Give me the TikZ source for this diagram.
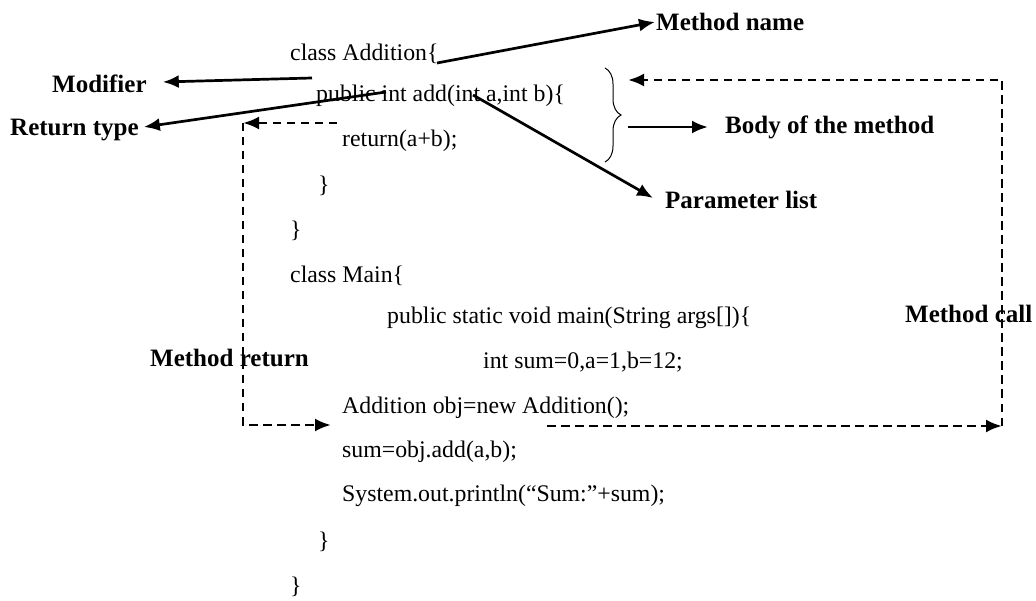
\documentclass[tikz,border=0pt]{standalone}
\usepackage{fontspec}
\setmainfont{Liberation Serif}
\usetikzlibrary{arrows.meta, decorations.pathreplacing, positioning}

\tikzset{
    code/.style={anchor=west, inner sep=0pt, font=\fontsize{23.8}{28}\selectfont},
    lbl/.style={anchor=west, inner sep=0pt, font=\fontsize{25}{30}\selectfont\bfseries},
    arr/.style={line width=2.7pt, -{Latex[length=16pt,width=13pt]}},
    darr/.style={line width=2.7pt, dash pattern=on 8.5pt off 5.5pt, -{Latex[length=16pt,width=13pt]}}
}

\begin{document}
\begin{tikzpicture}[x=1pt, y=-1pt]
            \useasboundingbox (0,0) rectangle (1036,601);
            % the program
            \node[code] (c1) at (290,54) {class Addition\{};
            \node[code] (c2) at (316,96) {public int add(int a,int b)\{};
            \node[code] (c3) at (342,141) {return(a+b);};
            \node[code] (c4) at (318,186) {\}};
            \node[code] (c5) at (290,231) {\}};
            \node[code] (c6) at (290,276) {class Main\{};
            \node[code] (c7) at (387,318) {public static void main(String args[])\{};
            \node[code] (c8) at (483,362) {int sum=0,a=1,b=12;};
            \node[code] (c9) at (342,408) {Addition obj=new Addition();};
            \node[code] (c10) at (342,452) {sum=obj.add(a,b);};
            \node[code] (c11) at (342,496) {System.out.println(“Sum:”+sum);};
            \node[code] (c12) at (318,542) {\}};
            \node[code] (c13) at (290,587) {\}};
            % labels
            \node[lbl] (mname) at (656,22) {Method name};
            \node[lbl] (mod) at (52,84) {Modifier};
            \node[lbl] (rtype) at (10,130) {Return type};
            \node[lbl] (body) at (725,127) {Body of the method};
            \node[lbl] (plist) at (665,200) {Parameter list};
            \node[lbl] (mcall) at (905,314) {Method call};
            \node[lbl] (mret) at (150,358) {Method return};
            % start points inside the code
            \coordinate (namefrom) at (437,63);
            \coordinate (modfrom) at (312,78);
            \coordinate (typefrom) at (386,92);
            \coordinate (parfrom) at (473,95);
            \coordinate (brtop) at (605,68);
            \coordinate (brbot) at (605,162);
            \coordinate (bodyfrom) at (628,127);
            % brace
            \draw[line width=1pt, decorate, decoration={brace, amplitude=16pt}] (brtop) -- (brbot);
            % solid arrows
            \draw[arr] (namefrom) -- ([xshift=-1pt]mname.west);
            \draw[arr] (modfrom) -- ([xshift=16pt, yshift=2pt]mod.east);
            \draw[arr] (typefrom) -- ([xshift=5pt, yshift=3pt]rtype.east);
            \draw[arr] (parfrom) -- ([xshift=-12pt, yshift=2pt]plist.west);
            \draw[arr] (bodyfrom) -- ([xshift=-17pt]body.west);
            % method call
            \coordinate (callfrom) at (547,426);
            \coordinate (callbot) at (1002,426);
            \coordinate (calltip) at (628,80);
            \draw[darr] (callfrom) -- (callbot);
            \draw[darr] (callbot) |- (calltip);
            % method return
            \coordinate (retfrom) at (337,123);
            \coordinate (retcorner) at (243,123);
            \coordinate (rettip) at (331,425);
            \draw[darr] (retfrom) -- (retcorner);
            \draw[darr] (retcorner) |- (rettip);
        \end{tikzpicture}
\end{document}
